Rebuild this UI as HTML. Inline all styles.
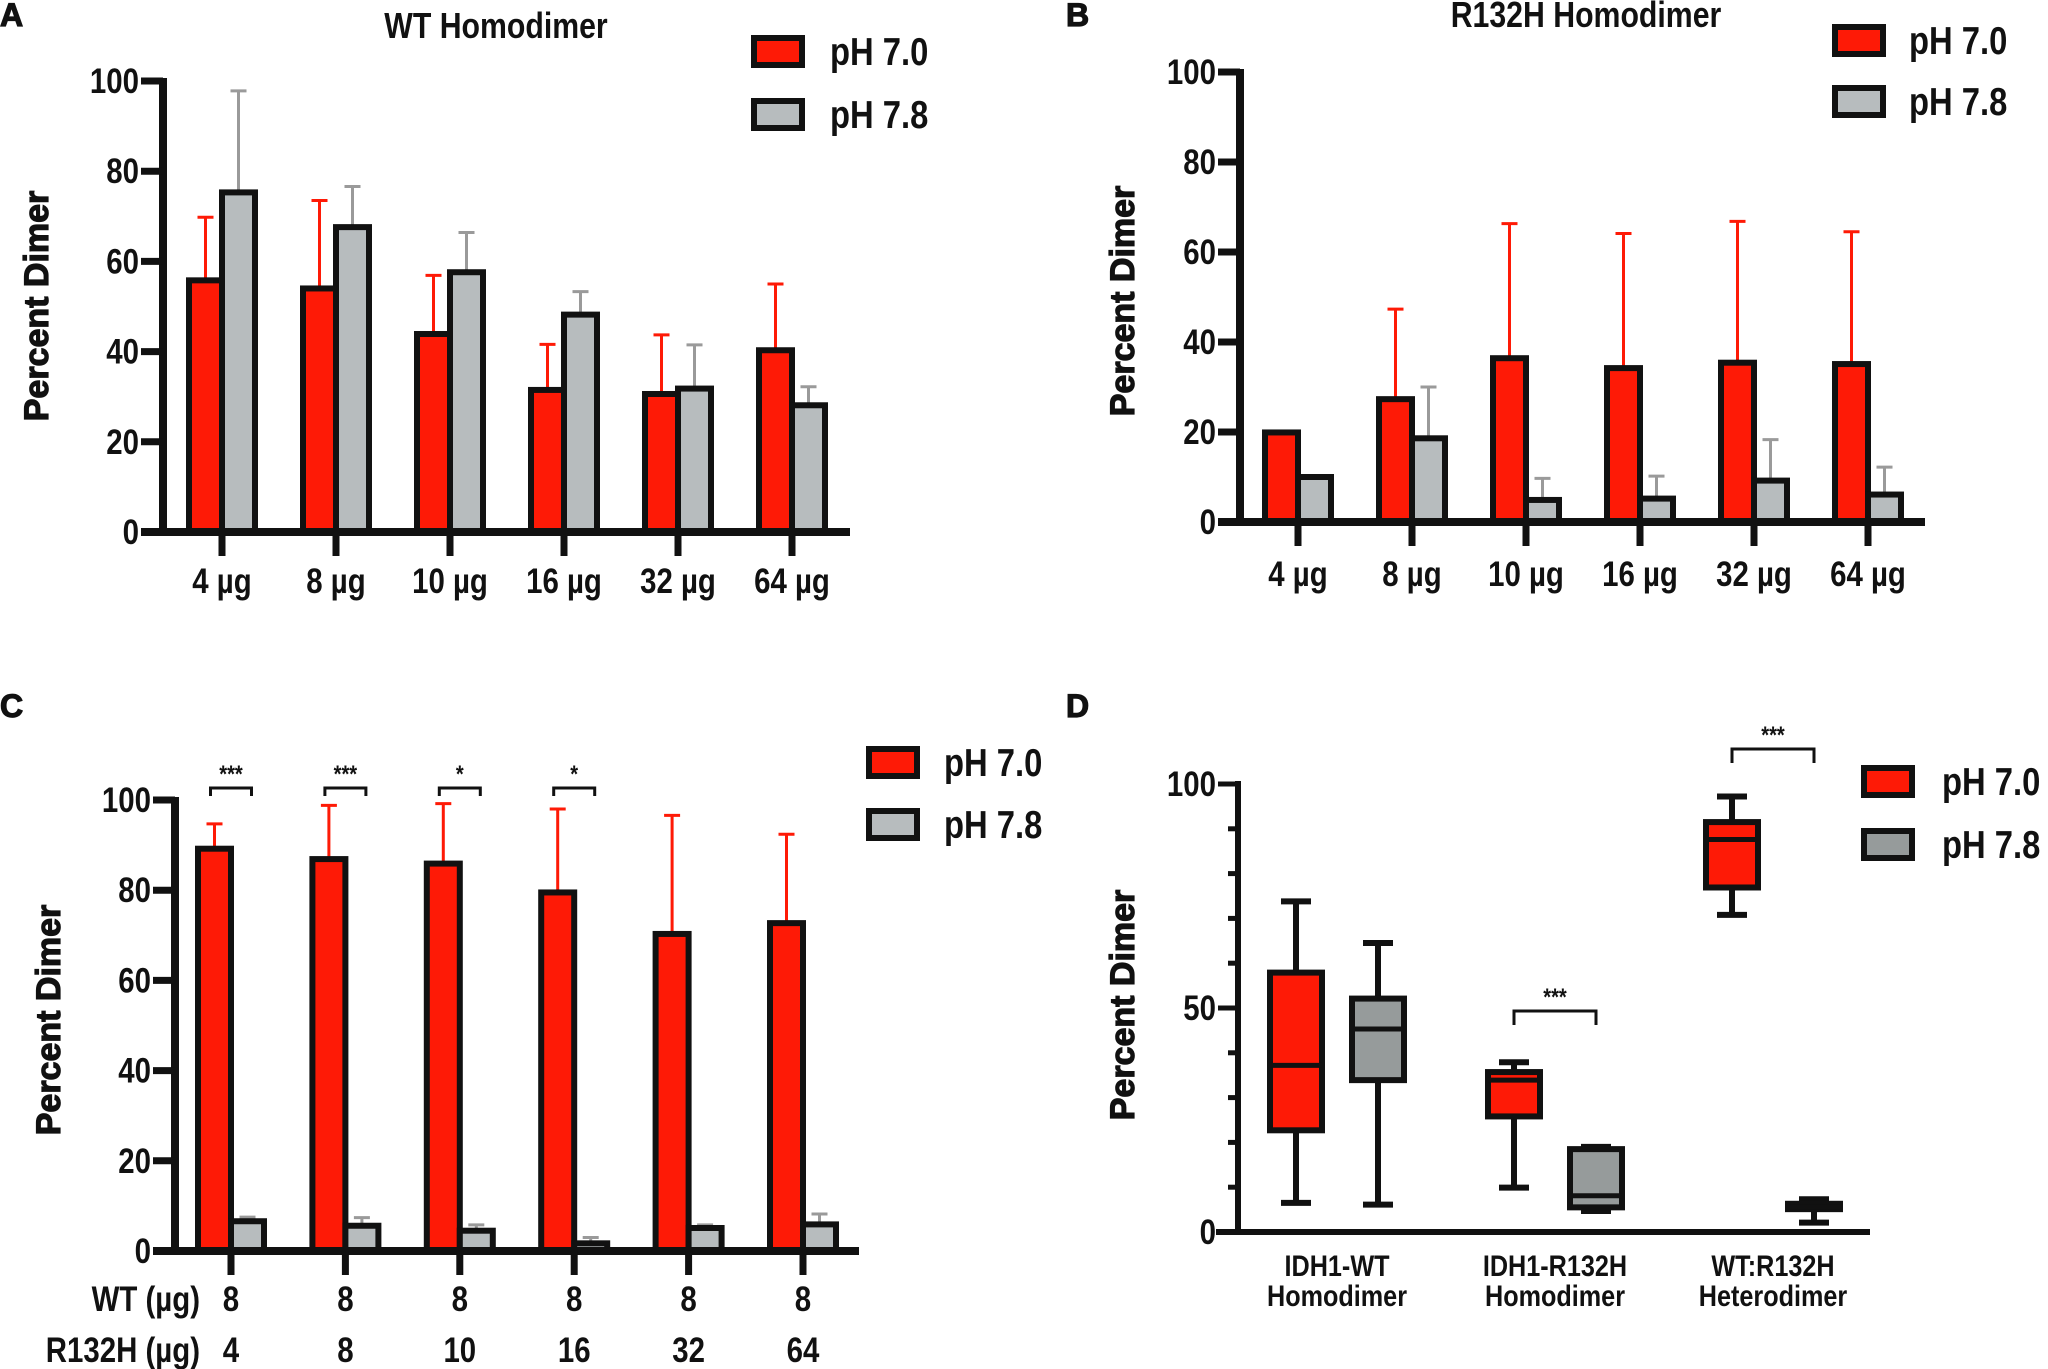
<!DOCTYPE html>
<html><head><meta charset="utf-8"><style>
html,body{margin:0;padding:0;background:#fff}
svg{display:block}
text{font-family:"Liberation Sans Narrow","Liberation Sans",sans-serif;font-weight:bold;fill:#111}
.yl{font-family:"Liberation Sans",sans-serif;font-weight:bold;stroke:#111;stroke-width:1.2}
</style></head><body>
<svg id="fig" xmlns="http://www.w3.org/2000/svg" width="2048" height="1369" viewBox="0 0 2048 1369"></svg>
<script>
// Panel A data
const catsA = ["4 µg","8 µg","10 µg","16 µg","32 µg","64 µg"];
const redA = [55.8,54.0,43.9,31.5,30.6,40.3];
const redErrA = [69.8,73.5,56.9,41.6,43.7,55.0];
const grayA = [75.3,67.6,57.6,48.2,31.8,28.1];
const grayErrA = [97.8,76.6,66.4,53.3,41.5,32.2];
// Panel B data
const catsB = ["4 µg","8 µg","10 µg","16 µg","32 µg","64 µg"];
const redB = [19.9,27.3,36.4,34.2,35.4,35.1];
const redErrB = [null,47.3,66.3,64.1,66.8,64.5];
const grayB = [10.0,18.6,4.9,5.2,9.2,6.1];
const grayErrB = [null,30.0,9.7,10.2,18.3,12.2];
// Panel C data
const wtC = ["8","8","8","8","8","8"];
const mutC = ["4","8","10","16","32","64"];
const redC = [89.2,86.9,85.9,79.5,70.3,72.7];
const redErrC = [94.7,98.8,99.2,98.0,96.6,92.4];
const grayC = [6.6,5.6,4.5,1.7,5.1,5.9];
const grayErrC = [7.5,7.4,5.8,3.0,5.8,8.2];
const sigC = ["***","***","*","*","",""];
const yTicksBar = [0,20,40,60,80,100];
// Panel D data
const groupsD = [["IDH1-WT","Homodimer"],["IDH1-R132H","Homodimer"],["WT:R132H","Heterodimer"]];
const boxRedD = [[6.5,22.7,37.2,57.9,73.8],[9.9,25.8,33.9,35.7,37.9],[70.8,76.9,87.6,91.5,97.2]];
const boxGrayD = [[6.1,33.9,45.3,52.1,64.5],[4.7,5.5,8.1,18.5,19.0],[2.1,5.1,5.6,6.3,7.3]];
const sigD = ["","***","***"];
const yTicksD = [0,50,100];

const NS="http://www.w3.org/2000/svg";
const svg=document.getElementById('fig');
const RED="#fe1a06", GRAY="#b7bcbe", DGRAY="#969b9b", EGRAY="#9a9a9a";
function mk(tag,attrs,parent){const e=document.createElementNS(NS,tag);for(const k in attrs)e.setAttribute(k,attrs[k]);(parent||svg).appendChild(e);return e;}
function txt(s,x,y,size,anchor,parent,cls){
  const t=mk('text',{x:x,y:y,'font-size':size,'text-anchor':anchor||'middle'},parent);
  if(cls)t.setAttribute('class',cls);
  t.textContent=s;
  if(!cls){
    try{const w=t.getComputedTextLength(); if(w>0){t.setAttribute('textLength',(w*0.84).toFixed(1));t.setAttribute('lengthAdjust','spacingAndGlyphs');}}catch(e){}
  }
  return t;
}

function legend(g,bx,by1,by2,tx,grayCol){
  const l1=mk('g',{},g);
  
  
  mk('rect',{x:bx,y:by1,width:48,height:27,fill:RED,stroke:'#111','stroke-width':6},l1);
  txt('pH 7.0',tx,by1+27,39,'start',l1);
  const l2=mk('g',{},g);
  
  
  mk('rect',{x:bx,y:by2,width:48,height:27,fill:grayCol,stroke:'#111','stroke-width':6},l2);
  txt('pH 7.8',tx,by2+27,39,'start',l2);
}

function barPanel(p){
  const g=mk('g',{});
  
  
  const ys=v=>p.y0-v*p.h/100;
  const xs=i=>p.first+i*p.step;
  const bw=33;
  for(let i=0;i<p.red.length;i++){
    const c=xs(i);
    if(p.redErr[i]!=null){
      const e=mk('path',{d:`M${c-bw/2},${ys(p.red[i])} V${ys(p.redErr[i])} M${c-bw/2-8},${ys(p.redErr[i])} H${c-bw/2+8}`,stroke:RED,'stroke-width':3,fill:'none'},g);
      
      
    }
    if(p.grayErr[i]!=null){
      const e=mk('path',{d:`M${c+bw/2},${ys(p.gray[i])} V${ys(p.grayErr[i])} M${c+bw/2-8},${ys(p.grayErr[i])} H${c+bw/2+8}`,stroke:EGRAY,'stroke-width':3,fill:'none'},g);
      
      
    }
    const r=mk('rect',{x:c-bw,y:ys(p.red[i]),width:bw,height:p.y0-ys(p.red[i]),fill:RED,stroke:'#111','stroke-width':6},g);
    
    
    const q=mk('rect',{x:c,y:ys(p.gray[i]),width:bw,height:p.y0-ys(p.gray[i]),fill:GRAY,stroke:'#111','stroke-width':6},g);
    
    
    if(p.sig && p.sig[i]){
      const b=mk('path',{d:`M${c-bw/2-4},${p.sigY+8} V${p.sigY} H${c+bw/2+4} V${p.sigY+8}`,stroke:'#111','stroke-width':3,fill:'none'},g);
      
      
      const s=txt(p.sig[i],c,p.sigY-6,24,'middle',g);
      
      
    }
  }
  const ax=mk('path',{d:`M${p.x0},${ys(100)-3} V${p.y0} M${p.x0-22},${p.y0} H${p.xEnd}`,stroke:'#111','stroke-width':8,fill:'none'},g);
  
  
  yTicksBar.forEach(v=>{
    mk('line',{x1:p.x0-22,x2:p.x0,y1:ys(v),y2:ys(v),stroke:'#111','stroke-width':7},g);
    const t=txt(String(v),p.x0-24,ys(v)+12,35,'end',g);
    
    
  });
  for(let i=0;i<p.red.length;i++){
    mk('line',{x1:xs(i),x2:xs(i),y1:p.y0,y2:p.y0+24,stroke:'#111','stroke-width':7},g);
    if(p.cats){
      const t=txt(p.cats[i],xs(i),p.labY,35,'middle',g);
      
      
    } else {
      const t1=txt(p.row1[i],xs(i),p.labY,35,'middle',g);
      
      
      const t2=txt(p.row2[i],xs(i),p.labY2,35,'middle',g);
      
      
    }
  }
  if(!p.cats){
    const a=txt('WT (µg)',200,p.labY,35,'end',g);
    
    
    const b=txt('R132H (µg)',200,p.labY2,35,'end',g);
    
    
  }
  const yl=txt('Percent Dimer',0,0,34,'middle',g,'yl');
  yl.setAttribute('transform',`translate(${p.ylx},${p.yly}) rotate(-90)`);
  
  
  if(p.title){
    const t=txt(p.title,p.tx,p.ty,36,'middle',g);
    
    
  }
  const pl=txt(p.letter,p.lx,p.ly,32,'start',g,'yl');
  
  
  legend(g,p.legX,p.legY1,p.legY2,p.legTX,GRAY);
}

barPanel({name:'panel-a',red:redA,redErr:redErrA,gray:grayA,grayErr:grayErrA,cats:catsA,x0:163,y0:532,h:451,xEnd:850,first:222,step:114,labY:593,ylx:48,yly:306,title:'WT Homodimer',tx:496,ty:38,letter:'A',lx:0,ly:26,legX:754,legY1:38,legY2:101,legTX:830});
barPanel({name:'panel-b',red:redB,redErr:redErrB,gray:grayB,grayErr:grayErrB,cats:catsB,x0:1240,y0:522,h:450,xEnd:1925,first:1298,step:114,labY:586,ylx:1134,yly:301,title:'R132H Homodimer',tx:1586,ty:27,letter:'B',lx:1066,ly:26,legX:1835,legY1:27,legY2:88,legTX:1909});
barPanel({name:'panel-c',red:redC,redErr:redErrC,gray:grayC,grayErr:grayErrC,row1:wtC,row2:mutC,sig:sigC,sigY:788,x0:175,y0:1251,h:451,xEnd:859,first:231,step:114.4,labY:1311,labY2:1362,ylx:60,yly:1020,letter:'C',lx:0,ly:717,legX:869,legY1:749,legY2:811,legTX:944});

(function(){
  const g=mk('g',{});
  
  
  const x0=1238,y0=1232,h=448,xEnd=1870;
  const ys=v=>y0-v*h/100;
  const gx=i=>1337+i*218;
  const off=41,bw=52;
  function box(c,s,fill,name){
    const b=mk('g',{},g);
    
    
    mk('path',{d:`M${c},${ys(s[0])} V${ys(s[1])} M${c},${ys(s[3])} V${ys(s[4])} M${c-15},${ys(s[0])} H${c+15} M${c-15},${ys(s[4])} H${c+15}`,stroke:'#111','stroke-width':6,fill:'none'},b);
    mk('rect',{x:c-bw/2,y:ys(s[3]),width:bw,height:ys(s[1])-ys(s[3]),fill:fill,stroke:'#111','stroke-width':6},b);
    mk('line',{x1:c-bw/2,x2:c+bw/2,y1:ys(s[2]),y2:ys(s[2]),stroke:'#111','stroke-width':5},b);
  }
  for(let i=0;i<groupsD.length;i++){
    box(gx(i)-off,boxRedD[i],RED,'box-ph70');
    box(gx(i)+off,boxGrayD[i],DGRAY,'box-ph78');
    const t1=txt(groupsD[i][0],gx(i),1276,30,'middle',g);
    
    
    const t2=txt(groupsD[i][1],gx(i),1306,30,'middle',g);
    
    
  }
  const brk=[[1,1011],[2,749]];
  brk.forEach(([i,y])=>{
    const c=gx(i);
    const b=mk('path',{d:`M${c-off},${y+14} V${y} H${c+off} V${y+14}`,stroke:'#111','stroke-width':3,fill:'none'},g);
    
    
    const s=txt(sigD[i],c,y-6,24,'middle',g);
    
    
  });
  const ax=mk('path',{d:`M${x0},${ys(100)-3} V${y0} M${x0-22},${y0} H${xEnd}`,stroke:'#111','stroke-width':6,fill:'none'},g);
  
  
  for(let v=0;v<=100;v+=10){
    const major=v%50===0;
    mk('line',{x1:x0-(major?20:10),x2:x0,y1:ys(v),y2:ys(v),stroke:'#111','stroke-width':5},g);
  }
  yTicksD.forEach(v=>{
    const t=txt(String(v),x0-22,ys(v)+12,35,'end',g);
    
    
  });
  const yl=txt('Percent Dimer',0,0,34,'middle',g,'yl');
  yl.setAttribute('transform','translate(1134,1005) rotate(-90)');
  
  
  const pl=txt('D',1066,717,32,'start',g,'yl');
  
  
  legend(g,1864,768,831,1942,DGRAY);
})();
</script>
</body></html>
